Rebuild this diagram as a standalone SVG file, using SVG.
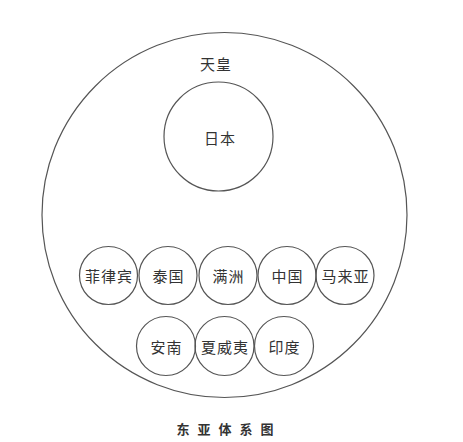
<svg xmlns="http://www.w3.org/2000/svg" width="463" height="442" viewBox="0 0 463 442">
<style>
.c{fill:none;stroke:#555;stroke-width:1.2}
.t{font-family:"Noto Sans CJK SC","Noto Sans CJK JP",sans-serif;font-size:15px;fill:#333;text-anchor:middle;dominant-baseline:central;letter-spacing:1px}
.cap{font-family:"Noto Sans CJK SC",sans-serif;font-size:13px;font-weight:bold;fill:#333;text-anchor:middle;dominant-baseline:central;letter-spacing:8px}
</style>
<rect width="463" height="442" fill="#fff"/>
<g id="outer"><circle class="c" cx="224.5" cy="215" r="182.5"/><text class="t" x="216" y="63">天皇</text></g>
<g id="japan"><circle class="c" cx="218.5" cy="136.5" r="54.5"/><text class="t" x="220" y="137">日本</text></g>
<g id="philippines"><circle class="c" cx="108.5" cy="275.5" r="29"/><text class="t" x="109" y="275.5">菲律宾</text></g>
<g id="thailand"><circle class="c" cx="168" cy="275.5" r="29"/><text class="t" x="168.5" y="275.5">泰国</text></g>
<g id="manchuria"><circle class="c" cx="228" cy="275.5" r="29"/><text class="t" x="228.5" y="275.5">满洲</text></g>
<g id="china"><circle class="c" cx="287" cy="275.5" r="29"/><text class="t" x="287.5" y="275.5">中国</text></g>
<g id="malaya"><circle class="c" cx="345" cy="275.5" r="29"/><text class="t" x="345.5" y="275.5">马来亚</text></g>
<g id="annam"><circle class="c" cx="166" cy="346" r="29.5"/><text class="t" x="166.5" y="346">安南</text></g>
<g id="hawaii"><circle class="c" cx="224.5" cy="346" r="29.5"/><text class="t" x="225" y="346">夏威夷</text></g>
<g id="india"><circle class="c" cx="284" cy="346" r="29.5"/><text class="t" x="284.5" y="346">印度</text></g>
<g id="connectors"></g>
<text class="cap" x="229" y="428">东亚体系图</text>
</svg>
